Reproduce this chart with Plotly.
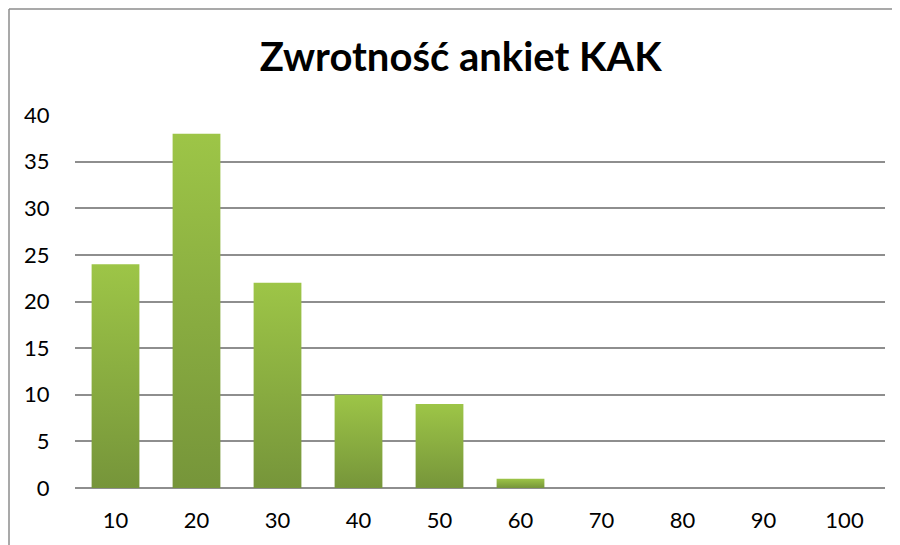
import plotly.graph_objects as go

categories = ["10", "20", "30", "40", "50", "60", "70", "80", "90", "100"]
values = [24, 38, 22, 10, 9, 1, 0, 0, 0, 0]
y_ticks = [0, 5, 10, 15, 20, 25, 30, 35, 40]
title_text = "Zwrotność ankiet KAK"

LIGHT = "#9DC547"
DARK = "#76953A"
BAR_W = 0.59
FONT = "Lato, Open Sans, sans-serif"

fig = go.Figure()
for i, v in enumerate(values):
    if v <= 0:
        continue
    x0, x1 = i - BAR_W / 2, i + BAR_W / 2
    fig.add_trace(go.Scatter(
        x=[x0, x1, x1, x0, x0], y=[0, 0, v, v, 0],
        mode="lines", line=dict(width=0),
        fill="toself",
        fillgradient=dict(type="vertical", colorscale=[[0, DARK], [1, LIGHT]]),
        hoverinfo="skip", showlegend=False,
    ))

# page body has an 8px margin -> figure origin sits at (8, 8) on screen
fig.update_layout(
    width=900, height=545,
    margin=dict(l=67, r=23, t=107, b=65),
    paper_bgcolor="white", plot_bgcolor="white",
    title=dict(text=f"<b>{title_text}</b>", x=0.503, xanchor="center",
               y=0.91, yanchor="middle",
               font=dict(family=FONT, size=40, color="black")),
    font=dict(family=FONT, size=22, color="black"),
    xaxis=dict(range=[-0.5, len(categories) - 0.5], tickmode="array",
               tickvals=list(range(len(categories))), ticktext=categories,
               showgrid=False, zeroline=False, showline=False,
               ticks="outside", ticklen=13, tickcolor="rgba(0,0,0,0)",
               tickfont=dict(size=22)),
    yaxis=dict(range=[0, 40], tickmode="array", tickvals=y_ticks,
               showgrid=True, gridcolor="#8E8E8E", gridwidth=1.6,
               zeroline=True, zerolinecolor="#8E8E8E", zerolinewidth=1.6,
               showline=False, ticks="outside", ticklen=20,
               tickcolor="rgba(0,0,0,0)", tickfont=dict(size=22)),
    shapes=[
        dict(type="line", xref="paper", yref="paper",
             x0=(9 - 75) / 810, x1=(9 - 75) / 810,
             y0=1 + (115 - 9) / 373, y1=-0.3,
             line=dict(color="#8C8C8C", width=1.5)),
        dict(type="line", xref="paper", yref="paper",
             x0=(9 - 75) / 810, x1=1.025,
             y0=1 + (115 - 9) / 373, y1=1 + (115 - 9) / 373,
             line=dict(color="#8C8C8C", width=1.5)),
    ],
)

fig.write_html("out.html")
